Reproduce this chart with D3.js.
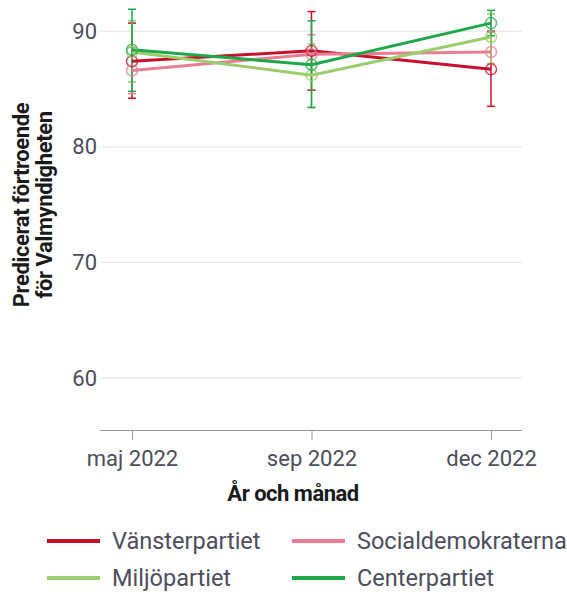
<!DOCTYPE html>
<html>
<head>
<meta charset="utf-8">
<script src="https://cdn.jsdelivr.net/npm/d3@7"></script>
<style>
  body { margin: 0; background: #fff; }
  text { font-family: "Roboto", sans-serif; }
</style>
</head>
<body>
<div id="chart"></div>
<script>
const months = ["maj 2022", "sep 2022", "dec 2022"];
const parties = ["Vänsterpartiet", "Socialdemokraterna", "Miljöpartiet", "Centerpartiet"];
const colors = ["#c8102e", "#ea7c94", "#9acd6c", "#1fa84a"];

// skattat värde, nedre och övre gräns per mätning
const vansterVal = [87.4, 88.3, 86.7];
const vansterLow = [84.2, 84.9, 83.5];
const vansterHigh = [90.7, 91.7, 90.0];
const socialVal = [86.6, 88.0, 88.2];
const socialLow = [84.6, 86.2, 87.2];
const socialHigh = [88.6, 89.7, 89.9];
const miljoVal = [88.2, 86.2, 89.5];
const miljoLow = [85.6, 83.4, 87.2];
const miljoHigh = [90.9, 88.9, 91.5];
const centerVal = [88.4, 87.1, 90.7];
const centerLow = [84.8, 83.4, 89.6];
const centerHigh = [91.9, 90.9, 91.8];

const yTicks = [60, 70, 80, 90];

const series = [
  { name: parties[0], color: colors[0], val: vansterVal, lo: vansterLow, hi: vansterHigh },
  { name: parties[1], color: colors[1], val: socialVal, lo: socialLow, hi: socialHigh },
  { name: parties[2], color: colors[2], val: miljoVal, lo: miljoLow, hi: miljoHigh },
  { name: parties[3], color: colors[3], val: centerVal, lo: centerLow, hi: centerHigh }
];

const width = 567, height = 592;
const plotLeft = 100, plotRight = 522, plotTop = 0, plotBottom = 430;

const x = d3.scalePoint().domain(months).range([132, 491]);
const y = d3.scaleLinear().domain([55.5, 92.7]).range([plotBottom, plotTop]);

const svg = d3.select("#chart").append("svg")
  .attr("width", width)
  .attr("height", height);

// rutnät
svg.append("g")
  .selectAll("line")
  .data(yTicks)
  .join("line")
  .attr("x1", plotLeft)
  .attr("x2", plotRight)
  .attr("y1", d => y(d))
  .attr("y2", d => y(d))
  .attr("stroke", "#e3e3e3")
  .attr("stroke-width", 1);

// y-axel etiketter
svg.append("g")
  .attr("transform", `translate(${plotLeft},0)`)
  .call(d3.axisLeft(y).tickValues(yTicks).tickSize(0).tickPadding(3))
  .call(g => g.select(".domain").remove())
  .call(g => g.selectAll("text")
    .attr("font-size", 22)
    .attr("fill", "#4d4d5c")
    .style("font-family", "Roboto, sans-serif"));

// x-axel
svg.append("g")
  .attr("transform", `translate(0,${plotBottom})`)
  .call(d3.axisBottom(x).tickSize(10).tickPadding(10).tickSizeOuter(0))
  .call(g => g.select(".domain").attr("d", `M${plotLeft},0.5H${plotRight}`).attr("stroke", "#9a9a9a"))
  .call(g => g.selectAll(".tick line").attr("stroke", "#9a9a9a"))
  .call(g => g.selectAll("text")
    .attr("font-size", 22)
    .attr("fill", "#4d4d5c")
    .style("font-family", "Roboto, sans-serif"));

// felstaplar
const cap = 4;
series.forEach(s => {
  const g = svg.append("g").attr("stroke", s.color).attr("stroke-width", 1.5).attr("fill", "none");
  months.forEach((m, i) => {
    g.append("line").attr("x1", x(m)).attr("x2", x(m)).attr("y1", y(s.lo[i])).attr("y2", y(s.hi[i]));
    g.append("line").attr("x1", x(m) - cap).attr("x2", x(m) + cap).attr("y1", y(s.lo[i])).attr("y2", y(s.lo[i]));
    g.append("line").attr("x1", x(m) - cap).attr("x2", x(m) + cap).attr("y1", y(s.hi[i])).attr("y2", y(s.hi[i]));
  });
});

// linjer
const line = d3.line().x((d, i) => x(months[i])).y(d => y(d));
svg.append("g")
  .selectAll("path")
  .data(series)
  .join("path")
  .attr("d", d => line(d.val))
  .attr("fill", "none")
  .attr("stroke", d => d.color)
  .attr("stroke-width", 3);

// punkter
series.forEach(s => {
  svg.append("g")
    .selectAll("circle")
    .data(s.val)
    .join("circle")
    .attr("cx", (d, i) => x(months[i]))
    .attr("cy", d => y(d))
    .attr("r", 5.5)
    .attr("fill", "none")
    .attr("stroke", s.color)
    .attr("stroke-opacity", 0.75)
    .attr("stroke-width", 1.5);
});

// axeltitlar
svg.append("text")
  .attr("x", (plotLeft + plotRight) / 2 - 18)
  .attr("y", 501)
  .attr("text-anchor", "middle")
  .attr("font-size", 22)
  .attr("font-weight", "bold")
  .attr("letter-spacing", -0.5)
  .attr("fill", "#1a1a1a")
  .text("År och månad");

const yTitle = svg.append("text")
  .attr("transform", "translate(29,205) rotate(-90)")
  .attr("text-anchor", "middle")
  .attr("font-size", 22)
  .attr("font-weight", "bold")
  .attr("letter-spacing", -0.4)
  .attr("fill", "#1a1a1a");
yTitle.append("tspan").attr("x", 0).attr("dy", 0).text("Predicerat förtroende");
yTitle.append("tspan").attr("x", 0).attr("dy", 23).text("för Valmyndigheten");

// förklaring
const legendPos = [[47, 541], [292, 541], [47, 578], [292, 578]];
const legend = svg.append("g")
  .selectAll("g")
  .data(series)
  .join("g")
  .attr("transform", (d, i) => `translate(${legendPos[i][0]},${legendPos[i][1]})`);
legend.append("line")
  .attr("x1", 0).attr("x2", 53)
  .attr("stroke", d => d.color)
  .attr("stroke-width", 4);
legend.append("text")
  .attr("x", 65)
  .attr("dy", "0.35em")
  .attr("font-size", 23.5)
  .attr("fill", "#4d4d5c")
  .text(d => d.name);
</script>
</body>
</html>
